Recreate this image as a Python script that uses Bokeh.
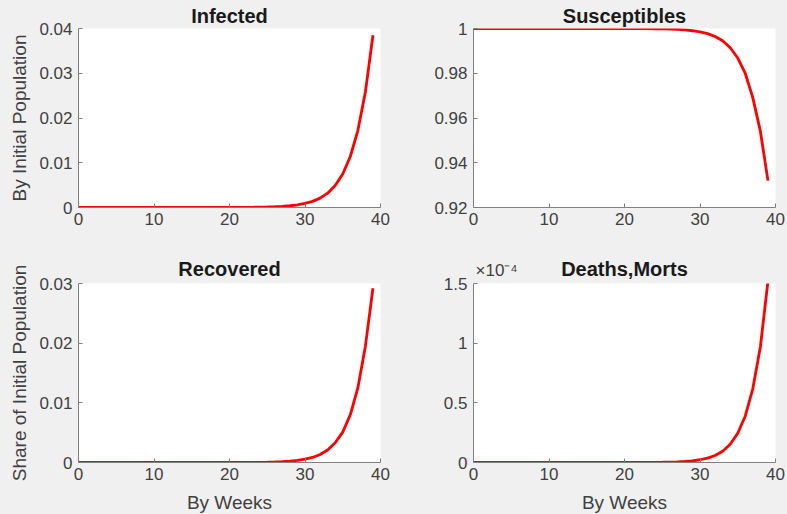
from bokeh.plotting import figure
from bokeh.layouts import gridplot
from bokeh.models import Range1d, FixedTicker, CustomJSTickFormatter, Title
from bokeh.embed import file_html
from bokeh.resources import INLINE

weeks = list(range(40))

infected = [5e-9, 7e-9, 1e-8, 1.5e-8, 2e-8, 3e-8, 5e-8, 7e-8, 1e-7, 1.5e-7,
            2.3e-7, 3.5e-7, 5.3e-7, 8e-7, 1.2e-6, 1.8e-6, 2.7e-6, 4.1e-6, 6.2e-6, 9.3e-6,
            1.4e-5, 2.1e-5, 3.2e-5, 4.9e-5, 7.4e-5, 1.12e-4, 1.7e-4, 2.6e-4, 3.9e-4, 5.9e-4,
            9.0e-4, 1.37e-3, 2.1e-3, 3.2e-3, 4.9e-3, 7.5e-3, 1.14e-2, 1.72e-2, 2.58e-2, 3.85e-2]

susceptibles = [1.0, 1.0, 1.0, 1.0, 1.0, 1.0, 1.0, 1.0, 1.0, 1.0,
                1.0, 1.0, 0.999999, 0.999998, 0.999997, 0.999996, 0.999994, 0.99999, 0.99999, 0.99998,
                0.99997, 0.99996, 0.99994, 0.99991, 0.99987, 0.99981, 0.99972, 0.99957, 0.99935, 0.9990,
                0.9985, 0.9977, 0.9964, 0.9945, 0.9914, 0.9868, 0.9799, 0.9690, 0.9540, 0.9320]

recovered = [0.0, 1e-9, 2e-9, 3e-9, 5e-9, 8e-9, 1.2e-8, 2e-8, 3e-8, 4.5e-8,
             7e-8, 1.1e-7, 1.7e-7, 2.6e-7, 4e-7, 6e-7, 9.5e-7, 1.5e-6, 2.3e-6, 3.6e-6,
             5.6e-6, 8.8e-6, 1.4e-5, 2.2e-5, 3.5e-5, 5.7e-5, 9.0e-5, 1.4e-4, 2.2e-4, 3.5e-4,
             5.5e-4, 8.5e-4, 1.35e-3, 2.1e-3, 3.3e-3, 5.1e-3, 8.0e-3, 1.25e-2, 1.95e-2, 2.92e-2]

deaths = [0.0, 0.0, 0.0, 0.0, 1e-11, 2e-11, 3e-11, 5e-11, 8e-11, 1.3e-10,
          2e-10, 3.2e-10, 5e-10, 8e-10, 1.3e-9, 2e-9, 3.2e-9, 5e-9, 8e-9, 1.3e-8,
          2e-8, 3.2e-8, 5e-8, 8e-8, 1.3e-7, 2.1e-7, 3.4e-7, 5.5e-7, 8.8e-7, 1.4e-6,
          2.3e-6, 3.7e-6, 5.9e-6, 9.5e-6, 1.53e-5, 2.45e-5, 3.9e-5, 6.2e-5, 9.7e-5, 1.52e-4]

x_ticks = [0, 10, 20, 30, 40]
inf_ticks = [0, 0.01, 0.02, 0.03, 0.04]
sus_ticks = [0.92, 0.94, 0.96, 0.98, 1.0]
rec_ticks = [0, 0.01, 0.02, 0.03]
dea_ticks = [0, 0.5e-4, 1.0e-4, 1.5e-4]
exponent_label = "\u00d710\u207b\u2074"

FONT = "Liberation Sans"
BG = "#f0f0f0"
TXT = "#404040"
AX = "#808080"
TITLE_C = "#1a1a1a"


def make(title, y, yr, yticks, bl, bt, br, bb, standoff, ylabel=None, xlabel=None, scale=1.0):
    p = figure(output_backend="svg", toolbar_location=None, title=title,
               frame_width=302, frame_height=179,
               min_border_left=bl, min_border_top=bt, min_border_right=br, min_border_bottom=bb,
               x_range=Range1d(0, 40), y_range=Range1d(*yr))
    p.border_fill_color = BG
    p.background_fill_color = "white"
    p.outline_line_color = None
    p.grid.visible = False
    p.title.align = "center"
    p.title.text_font = FONT
    p.title.text_font_size = "20px"
    p.title.text_font_style = "bold"
    p.title.text_color = TITLE_C
    p.title.standoff = standoff
    p.xaxis.ticker = FixedTicker(ticks=x_ticks)
    p.yaxis.ticker = FixedTicker(ticks=yticks)
    p.yaxis.formatter = CustomJSTickFormatter(
        code="return parseFloat((tick*%g).toFixed(4)).toString();" % scale)
    p.xaxis.formatter = CustomJSTickFormatter(code="return tick.toFixed(0);")
    for ax in (p.xaxis, p.yaxis):
        ax.axis_line_color = AX
        ax.major_tick_line_color = AX
        ax.major_tick_in = 4
        ax.major_tick_out = 0
        ax.minor_tick_line_color = None
        ax.major_label_text_font = FONT
        ax.major_label_text_font_size = "17px"
        ax.major_label_text_color = TXT
        ax.axis_label_text_font = FONT
        ax.axis_label_text_font_size = "19px"
        ax.axis_label_text_font_style = "normal"
        ax.axis_label_text_color = TXT
    p.yaxis.major_label_standoff = 6
    p.xaxis.major_label_standoff = 5
    if ylabel:
        p.yaxis.axis_label = ylabel
        p.yaxis.axis_label_standoff = 6
    if xlabel:
        p.xaxis.axis_label = xlabel
        p.xaxis.axis_label_standoff = 9
    p.line(weeks, y, line_color="red", line_width=2.8)
    return p


p1 = make("Infected", infected, (0, 0.04), inf_ticks, 78, 28, 14, 43, 4,
          ylabel="By Initial Population")
p2 = make("Susceptibles", susceptibles, (0.92, 1.0), sus_ticks, 79, 28, 12, 43, 4)
p3 = make("Recovered", recovered, (0, 0.03), rec_ticks, 78, 33, 14, 52, 7,
          ylabel="Share of Initial Population", xlabel="By Weeks")
p4 = make("Deaths,Morts", deaths, (0, 1.5e-4), dea_ticks, 79, 33, 12, 52, -49,
          xlabel="By Weeks", scale=1e4)

# exponent marker of the deaths panel, on the same row as its title
p4.add_layout(Title(text=exponent_label, align="left", offset=2, standoff=7,
                    text_font=FONT, text_font_size="17px", text_font_style="normal",
                    text_color=TXT), "above")

grid = gridplot([[p1, p2], [p3, p4]], toolbar_location=None)
grid.styles = {"background-color": BG}

open("out.html", "w").write(file_html(grid, INLINE))
